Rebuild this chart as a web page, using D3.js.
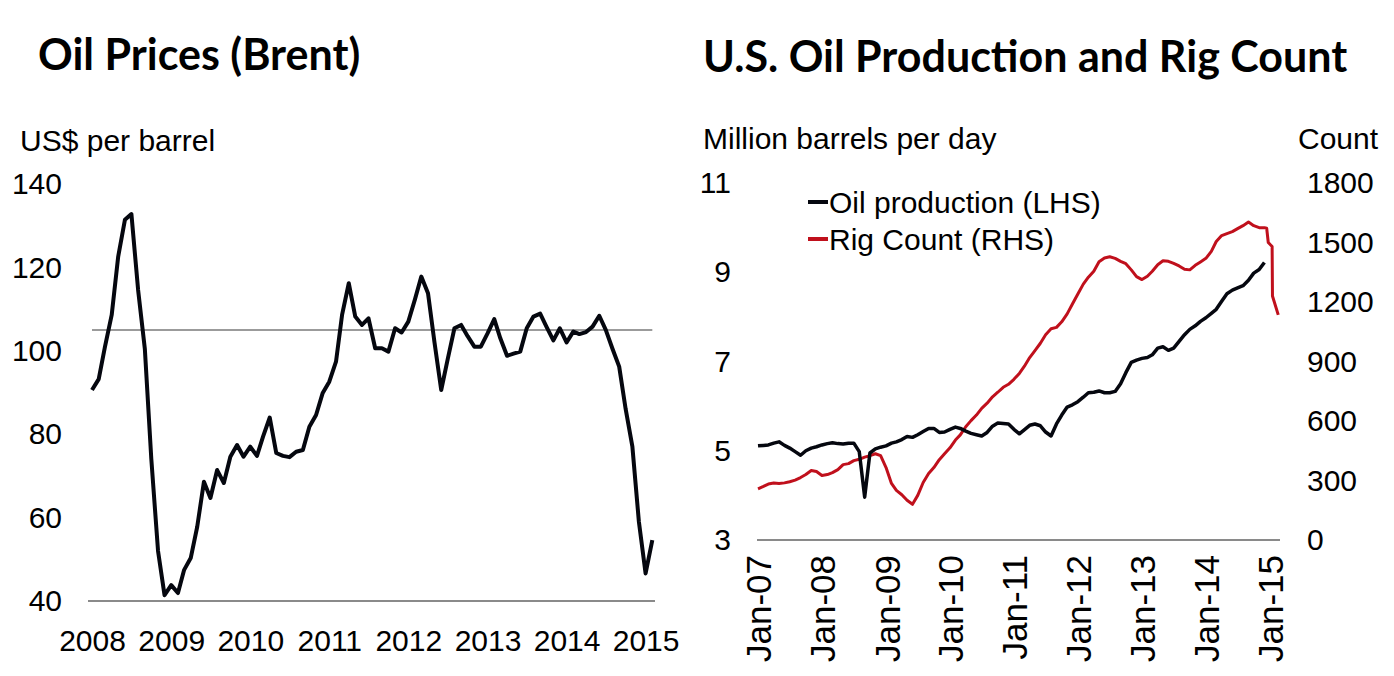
<!DOCTYPE html>
<html><head><meta charset="utf-8">
<script src="https://cdn.jsdelivr.net/npm/d3@7"></script>
<style>
body{margin:0;background:#fff}
svg text{font-family:'Liberation Sans',Arial,sans-serif;fill:#000}
</style>
</head><body>
<svg id="c" width="1394" height="676"></svg>
<script>
// ---------- DATA ----------
// Left panel: Brent, monthly from Jan 2008 (US$ per barrel)
const brentStart = [2008, 0];
const brentPrices = [
  90.6, 93.2, 101, 108.6, 122.6, 131.4, 132.8, 114.6, 100.5, 74, 52, 41.4,
  43.8, 41.9, 47.4, 50.3, 57.8, 68.6, 64.7, 71.4, 68.3, 74.6, 77.4, 74.6,
  77, 74.8, 79.4, 84, 75.5, 74.8, 74.5, 75.8, 76.2, 81.8, 84.6, 89.8,
  92.6, 97.4, 108.6, 116.2, 108.2, 106.2, 107.8, 100.6, 100.6, 99.8, 105.4, 104.4,
  107, 112.4, 117.8, 113.8, 102, 90.6, 98, 105.4, 106.2, 103.5, 101, 101,
  104.2, 107.6, 103, 98.8, 99.3, 99.8, 105.4, 108.2, 108.9, 105.7, 102.5, 105.4,
  102, 104.6, 104, 104.5, 105.8, 108.4, 105, 100.5, 96.2, 86, 77, 59,
  46.6, 54.6
];
const brentYears = [2008, 2009, 2010, 2011, 2012, 2013, 2014, 2015];
const brentTicks = [40, 60, 80, 100, 120, 140];
const brentReference = 105;

// Right panel: monthly from Jan 2007
const prodStart = [2007, 0];
const oilProduction = [ // million barrels per day (LHS)
  5.11, 5.12, 5.13, 5.17, 5.2, 5.12, 5.06, 4.98, 4.9, 5.0, 5.06, 5.09,
  5.13, 5.16, 5.18, 5.16, 5.15, 5.17, 5.17, 4.98, 3.96, 4.95, 5.04, 5.08,
  5.11, 5.17, 5.2, 5.25, 5.32, 5.3, 5.36, 5.43, 5.5, 5.5, 5.41, 5.42,
  5.48, 5.53, 5.5, 5.44, 5.39, 5.36, 5.33, 5.41, 5.55, 5.62, 5.61, 5.6,
  5.48, 5.38, 5.47, 5.57, 5.6, 5.56, 5.42, 5.33, 5.6, 5.8, 5.98, 6.03,
  6.1, 6.2, 6.3, 6.31, 6.34, 6.3, 6.3, 6.33, 6.5, 6.75, 6.98, 7.03,
  7.07, 7.09, 7.15, 7.3, 7.33, 7.25, 7.3, 7.45, 7.6, 7.72, 7.8, 7.9,
  7.98, 8.08, 8.17, 8.35, 8.52, 8.6, 8.65, 8.7, 8.82, 8.98, 9.06, 9.22
];
const rigCount = [ // count (RHS)
  258, 270, 282, 287, 285, 288, 294, 302, 315, 330, 350, 345,
  325, 330, 340, 355, 380, 385, 400, 407, 418, 425, 435, 425,
  365, 285, 250, 228, 200, 180, 225, 290, 335, 365, 405, 435,
  465, 504, 530, 571, 602, 630, 664, 690, 722, 745, 770, 785,
  810, 840, 875, 920, 955, 992, 1035, 1065, 1072, 1100, 1140, 1190,
  1240, 1290, 1325, 1355, 1403, 1422, 1428, 1420, 1405, 1393, 1362, 1328,
  1313, 1330, 1355, 1388, 1408, 1405, 1395, 1382, 1365, 1362, 1385, 1402,
  1420, 1455, 1505, 1535, 1545, 1555, 1570, 1585, 1603, 1585, 1575, 1575
];
const rigTailDates = ["2014-12-14", "2014-12-23", "2015-01-14", "2015-01-16", "2015-02-18"];
const rigTailValues = [1572, 1500, 1480, 1230, 1135];
const prodTicks = [3, 5, 7, 9, 11];
const rigTicks = [0, 300, 600, 900, 1200, 1500, 1800];
const dateLabelYears = [2007, 2008, 2009, 2010, 2011, 2012, 2013, 2014, 2015];
const legendLabels = ["Oil production (LHS)", "Rig Count (RHS)"];

// ---------- DRAW ----------
const svg = d3.select("#c");
const FS = 30;

function styleAxis(g) {
  g.select(".domain").remove();
  g.selectAll("line").remove();
  g.selectAll("text").attr("font-size", FS).attr("fill", "#000");
}

// ===== Left panel =====
const brentData = brentPrices.map((v, i) => ({date: new Date(brentStart[0], brentStart[1] + i, 1), v}));
const xL = d3.scaleTime().domain([new Date(2008, 0, 1), new Date(2015, 0, 1)]).range([92, 645.6]);
const yL = d3.scaleLinear().domain([40, 140]).range([601, 184]);

svg.append("text").attr("x", 38).attr("y", 70)
  .style("font-family", "Lato, 'Open Sans', sans-serif").attr("font-weight", 700)
  .attr("font-size", 43).text("Oil Prices (Brent)");
svg.append("text").attr("x", 20).attr("y", 151).attr("font-size", FS).text("US$ per barrel");

svg.append("g").attr("transform", "translate(70,0)")
  .call(d3.axisLeft(yL).tickValues(brentTicks).tickSize(0).tickPadding(8))
  .call(styleAxis);
svg.append("g").attr("transform", "translate(0,601)")
  .call(d3.axisBottom(xL).tickValues(brentYears.map(y => new Date(y, 0, 1)))
    .tickFormat(d3.timeFormat("%Y")).tickSize(0).tickPadding(29))
  .call(styleAxis);

svg.append("line").attr("x1", 88).attr("x2", 655).attr("y1", yL(40)).attr("y2", yL(40))
  .attr("stroke", "#8a8a8a").attr("stroke-width", 2);
svg.append("line").attr("x1", xL(brentData[0].date)).attr("x2", xL(brentData[brentData.length - 1].date))
  .attr("y1", yL(brentReference)).attr("y2", yL(brentReference))
  .attr("stroke", "#7a7a7a").attr("stroke-width", 1.5);

svg.append("path").datum(brentData)
  .attr("d", d3.line().x(d => xL(d.date)).y(d => yL(d.v)))
  .attr("fill", "none").attr("stroke", "#05070f").attr("stroke-width", 4)
  .attr("stroke-linejoin", "round");

// ===== Right panel =====
const prodData = oilProduction.map((v, i) => ({date: new Date(prodStart[0], prodStart[1] + i, 1), v}));
const rigData = rigCount.map((v, i) => ({date: new Date(prodStart[0], prodStart[1] + i, 1), v}))
  .concat(rigTailDates.map((d, i) => ({date: d3.timeParse("%Y-%m-%d")(d), v: rigTailValues[i]})));

const xR = d3.scaleTime().domain([new Date(2007, 0, 1), new Date(2015, 1, 28)]).range([758, 1280]);
const yR1 = d3.scaleLinear().domain([3, 11]).range([540, 183]);
const yR2 = d3.scaleLinear().domain([0, 1800]).range([540, 183]);

svg.append("text").attr("x", 703).attr("y", 72)
  .style("font-family", "Lato, 'Open Sans', sans-serif").attr("font-weight", 700)
  .attr("font-size", 43).text("U.S. Oil Production and Rig Count");
svg.append("text").attr("x", 703).attr("y", 149).attr("font-size", FS).text("Million barrels per day");
svg.append("text").attr("x", 1298).attr("y", 149).attr("font-size", FS).text("Count");

svg.append("g").attr("transform", "translate(757,0)")
  .call(d3.axisLeft(yR1).tickValues(prodTicks).tickSize(0).tickPadding(26))
  .call(styleAxis);
svg.append("g").attr("transform", "translate(1280,0)")
  .call(d3.axisRight(yR2).tickValues(rigTicks).tickFormat(d3.format("d")).tickSize(0).tickPadding(27))
  .call(styleAxis);
svg.append("g").attr("transform", "translate(0,540)")
  .call(d3.axisBottom(xR).tickValues(dateLabelYears.map(y => new Date(y, 0, 1)))
    .tickFormat(d3.timeFormat("%b-%y")).tickSize(0))
  .call(styleAxis)
  .call(g => g.selectAll("text")
    .attr("font-size", 35)
    .attr("y", 0).attr("x", -15).attr("dy", "0.37em")
    .attr("transform", "rotate(-90)").style("text-anchor", "end"));

svg.append("line").attr("x1", 757).attr("x2", 1280).attr("y1", 540).attr("y2", 540)
  .attr("stroke", "#8a8a8a").attr("stroke-width", 2);

svg.append("path").datum(rigData)
  .attr("d", d3.line().x(d => xR(d.date)).y(d => yR2(d.v)))
  .attr("fill", "none").attr("stroke", "#c0101c").attr("stroke-width", 3)
  .attr("stroke-linejoin", "round");
svg.append("path").datum(prodData)
  .attr("d", d3.line().x(d => xR(d.date)).y(d => yR1(d.v)))
  .attr("fill", "none").attr("stroke", "#05070f").attr("stroke-width", 3.5)
  .attr("stroke-linejoin", "round");

// Legend
const legendColors = ["#05070f", "#c0101c"];
const leg = svg.append("g");
legendLabels.forEach((t, i) => {
  const y = 202 + i * 37;
  leg.append("line").attr("x1", 808).attr("x2", 828).attr("y1", y).attr("y2", y)
    .attr("stroke", legendColors[i]).attr("stroke-width", 4);
  leg.append("text").attr("x", 829).attr("y", y + 11).attr("font-size", FS).text(t);
});
</script>
</body></html>
